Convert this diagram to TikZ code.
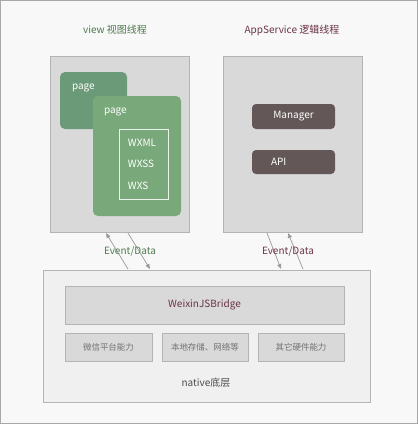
\documentclass[tikz,border=0pt]{standalone}
\usepackage{fontspec}
\setmainfont{Noto Sans CJK SC}
\usetikzlibrary{arrows.meta}
\definecolor{bgc}{HTML}{F8F8F8}
\definecolor{framec}{HTML}{A8A8A8}
\definecolor{boxg}{HTML}{D9D9D9}
\definecolor{boxline}{HTML}{B4B4B4}
\definecolor{pageA}{HTML}{6A9A78}
\definecolor{pageB}{HTML}{79A97A}
\definecolor{mgr}{HTML}{635857}
\definecolor{greent}{HTML}{4E7A4E}
\definecolor{redt}{HTML}{6B3344}
\definecolor{nativebg}{HTML}{F0F0F0}
\definecolor{arrowc}{HTML}{9A9A9A}
\tikzset{
  every node/.style={inner sep=0pt, outer sep=0pt},
  thread/.style={draw=boxline, fill=boxg, line width=0.8pt},
  pagebox/.style={rounded corners=5pt},
  darkbox/.style={fill=mgr, rounded corners=4pt},
  smallbox/.style={draw=boxline, fill=boxg, line width=0.8pt},
  txt/.style={font=\fontsize{10}{12}\selectfont},
  wtxt/.style={txt, text=white},
  flow/.style={draw=arrowc, line width=0.7pt, -{Triangle[length=5pt,width=4pt]}}
}
\begin{document}
\begin{tikzpicture}[x=1pt,y=-1pt]
\path[fill=bgc, draw=framec, line width=1pt] (0.5,0.5) rectangle (417.5,423.5);
\useasboundingbox (0,0) rectangle (418,424);
% titles
\node[txt, text=greent] (t1) at (115,30) {view 视图线程};
\node[txt, text=redt] (t2) at (292,30) {AppService 逻辑线程};
% thread boxes
\node[thread, minimum width=139pt, minimum height=176pt, anchor=north west] (view) at (50,56) {};
\node[thread, minimum width=139pt, minimum height=176pt, anchor=north west] (svc) at (223,56) {};
% pages
\node[pagebox, fill=pageA, minimum width=67pt, minimum height=57pt, anchor=north west] (p1) at (60,72) {};
\node[wtxt, anchor=west] (p1t) at (72,88) {page};
\node[pagebox, fill=pageB, minimum width=88pt, minimum height=120pt, anchor=north west] (p2) at (93,96) {};
\node[wtxt, anchor=west] (p2t) at (104,112) {page};
\node[draw=white!85!pageB, line width=0.8pt, minimum width=49pt, minimum height=70pt, anchor=north west] (inner) at (119,129) {};
\node[wtxt, anchor=west] (w1) at (128,143) {WXML};
\node[wtxt, anchor=west] (w2) at (128,164) {WXSS};
\node[wtxt, anchor=west] (w3) at (128,186) {WXS};
% manager / api
\node[darkbox, minimum width=83pt, minimum height=25pt, anchor=north west] (mg) at (252,104) {};
\node[wtxt] at (mg.center) {Manager};
\node[darkbox, minimum width=83pt, minimum height=24pt, anchor=north west] (api) at (252,150) {};
\node[wtxt, anchor=west] at (271,162) {API};
% native
\node[draw=boxline, fill=nativebg, line width=0.8pt, minimum width=327pt, minimum height=132pt, anchor=north west] (native) at (43,270) {};
\node[smallbox, minimum width=279pt, minimum height=38pt, anchor=north west] (bridge) at (65,286) {};
\node[txt, text=redt] at (bridge.center) {WeixinJSBridge};
\node[smallbox, minimum width=87pt, minimum height=28pt, anchor=north west, font=\fontsize{8.5}{10}\selectfont, text=gray] (s1) at (65,333) {};
\node[font=\fontsize{8.5}{10}\selectfont, text=black!55] at (s1.center) {微信平台能力};
\node[smallbox, minimum width=86pt, minimum height=28pt, anchor=north west] (s2) at (162,333) {};
\node[font=\fontsize{8.5}{10}\selectfont, text=black!55] at (s2.center) {本地存储、网络等};
\node[smallbox, minimum width=86pt, minimum height=28pt, anchor=north west] (s3) at (258,333) {};
\node[font=\fontsize{8.5}{10}\selectfont, text=black!55] at (s3.center) {其它硬件能力};
\node[txt, text=black!70] (nt) at (206,383) {native底层};
% arrows
\coordinate (a1s) at (128,269); \coordinate (a1e) at (106,233);
\coordinate (a2s) at (128,233); \coordinate (a2e) at (150,269);
\coordinate (b1s) at (267,233); \coordinate (b1e) at (281,269);
\coordinate (b2s) at (303,269); \coordinate (b2e) at (288,233);
\draw[flow] (a1s) -- (a1e);
\draw[flow] (a2s) -- (a2e);
\draw[flow] (b1s) -- (b1e);
\draw[flow] (b2s) -- (b2e);
\node[txt, text=greent] (l1) at (130,251) {Event/Data};
\node[txt, text=redt] (l2) at (288,251) {Event/Data};
\end{tikzpicture}
\end{document}
